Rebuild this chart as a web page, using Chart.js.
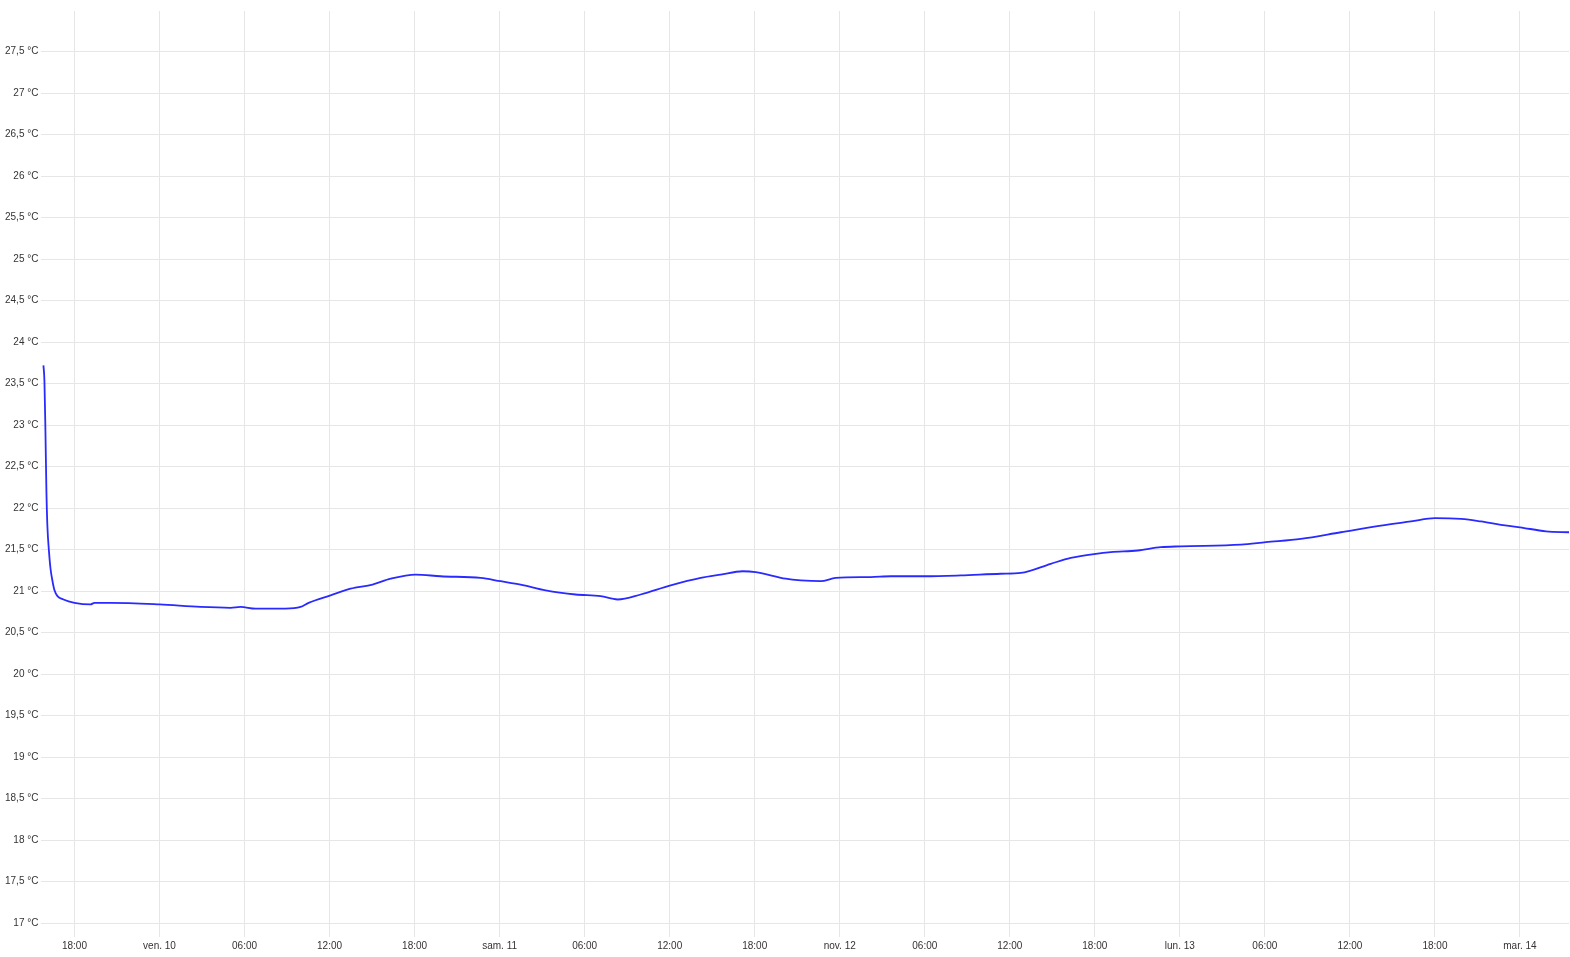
<!DOCTYPE html>
<html>
<head>
<meta charset="utf-8">
<script src="https://cdn.jsdelivr.net/npm/chart.js@4"></script>
<style>
  html, body { margin: 0; padding: 0; background: #fff; }
  #wrap { width: 1570px; height: 957px; }
</style>
</head>
<body>
<div id="wrap"><canvas id="tempChart"></canvas></div>
<script>
// heures depuis le 9 nov. 00:00
const hours = [15.81, 15.88, 15.95, 16.02, 16.09, 16.2, 16.31, 16.45, 16.59, 16.8, 17.22, 18.0,
    19.13, 19.41, 20.54, 24.0, 26.89, 29.01, 29.72, 30.78, 32.89, 33.95, 34.52, 36.07, 37.48,
    39.03, 40.31, 42.07, 43.83, 46.66, 48.07, 49.48, 51.25, 53.36, 55.13, 56.33, 57.95, 60.07,
    62.19, 63.6, 65.15, 66.07, 68.19, 69.25, 70.66, 71.72, 74.19, 75.6, 78.0, 80.54, 83.36,
    84.78, 86.89, 88.3, 90.07, 91.13, 93.03, 94.66, 96.07, 100.31, 102.07, 104.54, 107.36,
    110.19, 112.31, 114.0, 115.84, 117.25, 118.66, 120.0, 121.84, 123.46];
const temps = [23.72, 23.53, 22.93, 22.2, 21.78, 21.48, 21.27, 21.12, 21.01, 20.94, 20.9, 20.86,
    20.84, 20.86, 20.86, 20.84, 20.81, 20.8, 20.81, 20.79, 20.79, 20.81, 20.86, 20.95, 21.03,
    21.08, 21.15, 21.2, 21.18, 21.16, 21.12, 21.08, 21.01, 20.96, 20.94, 20.9, 20.96, 21.07,
    21.16, 21.2, 21.24, 21.23, 21.15, 21.13, 21.12, 21.16, 21.17, 21.18, 21.18, 21.19, 21.21,
    21.22, 21.33, 21.4, 21.45, 21.47, 21.49, 21.53, 21.54, 21.56, 21.59, 21.63, 21.71,
    21.79, 21.84, 21.88, 21.87, 21.84, 21.8, 21.77, 21.72, 21.71];

const dayTicks = [24, 48, 72, 96, 120];
const dayNames = ['ven. 10', 'sam. 11', 'nov. 12', 'lun. 13', 'mar. 14'];

const points = hours.map((h, i) => ({ x: h, y: temps[i] }));

Chart.defaults.font.family = '"Liberation Sans", Arial, sans-serif';
Chart.defaults.font.size = 10;
Chart.defaults.color = '#333';

const ctx = document.getElementById('tempChart').getContext('2d');
new Chart(ctx, {
    type: 'line',
    data: {
        datasets: [{
            label: 'Température',
            data: points,
            borderColor: '#2a2aff',
            borderWidth: 1.8,
            pointRadius: 0,
            fill: false,
            cubicInterpolationMode: 'monotone'
        }]
    },
    options: {
        responsive: true,
        maintainAspectRatio: false,
        animation: false,
        layout: { padding: { top: 11, left: 2, right: 1, bottom: 2 } },
        plugins: {
            legend: { display: false },
            tooltip: { enabled: false }
        },
        scales: {
            x: {
                type: 'linear',
                min: 15.67,
                max: 123.46,
                border: { display: false },
                grid: { color: '#e6e6e6', tickLength: 8 },
                ticks: {
                    stepSize: 6,
                    includeBounds: false,
                    maxRotation: 0,
                    autoSkip: false,
                    padding: 3,
                    callback: function (value) {
                        const k = dayTicks.indexOf(value);
                        if (k >= 0) return dayNames[k];
                        const hh = value % 24;
                        return (hh < 10 ? '0' : '') + hh + ':00';
                    }
                }
            },
            y: {
                min: 16.93,
                max: 27.99,
                border: { display: false },
                grid: { color: '#e6e6e6', drawTicks: false },
                ticks: {
                    stepSize: 0.5,
                    includeBounds: false,
                    autoSkip: false,
                    padding: 3,
                    callback: function (value) {
                        return String(value).replace('.', ',') + ' °C';
                    }
                }
            }
        }
    }
});
</script>
</body>
</html>
